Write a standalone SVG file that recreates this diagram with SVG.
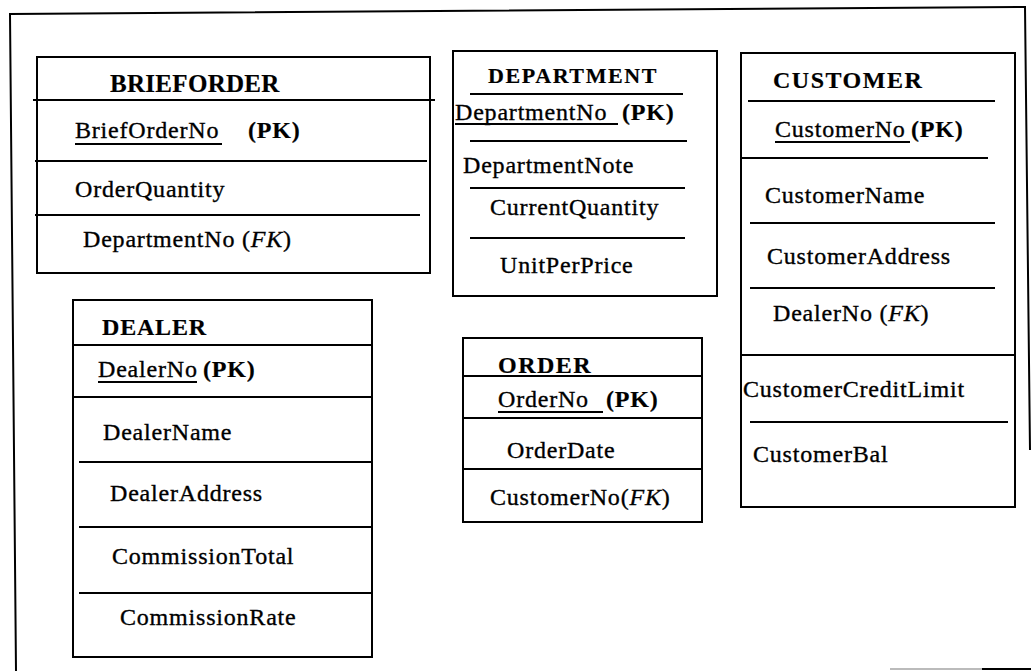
<svg xmlns="http://www.w3.org/2000/svg" width="1031" height="671" viewBox="0 0 1031 671">
<style>
  text { font-family: "Liberation Serif", "Times New Roman", serif; font-size: 24px; fill: #000; letter-spacing: 0.8px; stroke: #000; stroke-width: 0.35px; }
  .h { font-weight: bold; letter-spacing: 1.5px; stroke-width: 0.2px; }
  .b { font-weight: bold; stroke-width: 0.2px; }
  .i { font-style: italic; }
  .box { fill: none; stroke: #000; stroke-width: 2; }
  .ln { stroke: #000; stroke-width: 2; fill: none; }
  .frame { stroke: #000; stroke-width: 2; fill: none; }
</style>
<rect width="1031" height="671" fill="#fff"/>
<g id="frame">
  <polyline class="frame" points="16,671 10,14 1025,7 1030,450"/>
  <line x1="890" y1="669" x2="982" y2="669" stroke="#bbb" stroke-width="2"/>
  <line x1="982" y1="669" x2="1031" y2="669" stroke="#000" stroke-width="2"/>
</g>
<g id="connectors"></g>
<g id="brieforder">
  <rect class="box" x="37" y="57" width="393" height="216"/>
  <line class="ln" x1="33" y1="100" x2="435" y2="100"/>
  <line class="ln" x1="35" y1="161" x2="427" y2="161"/>
  <line class="ln" x1="35" y1="215" x2="420" y2="215"/>
  <text class="h" x="110" y="92" style="font-size:25px;letter-spacing:0.3px">BRIEFORDER</text>
  <text x="75" y="138">BriefOrderNo</text>
  <line class="ln" x1="75" y1="144" x2="222" y2="144"/>
  <text class="b" x="248" y="138">(PK)</text>
  <text x="75" y="197">OrderQuantity</text>
  <text x="83" y="247">DepartmentNo (<tspan class="i">FK</tspan>)</text>
</g>
<g id="department">
  <rect class="box" x="453" y="51" width="264" height="245"/>
  <line class="ln" x1="470" y1="94" x2="683" y2="94"/>
  <line class="ln" x1="470" y1="141" x2="687" y2="141"/>
  <line class="ln" x1="470" y1="188" x2="685" y2="188"/>
  <line class="ln" x1="470" y1="238" x2="685" y2="238"/>
  <text class="h" x="488" y="83" style="font-size:22px;letter-spacing:1.6px">DEPARTMENT</text>
  <text x="455" y="120">DepartmentNo</text>
  <line class="ln" x1="455" y1="124" x2="618" y2="124"/>
  <text class="b" x="622" y="120">(PK)</text>
  <text x="463" y="173">DepartmentNote</text>
  <text x="490" y="215">CurrentQuantity</text>
  <text x="500" y="273">UnitPerPrice</text>
</g>
<g id="customer">
  <rect class="box" x="741" y="53" width="274" height="454"/>
  <line class="ln" x1="748" y1="101" x2="995" y2="101"/>
  <line class="ln" x1="742" y1="158" x2="988" y2="158"/>
  <line class="ln" x1="750" y1="223" x2="995" y2="223"/>
  <line class="ln" x1="750" y1="288" x2="995" y2="288"/>
  <line class="ln" x1="741" y1="355" x2="1015" y2="355"/>
  <line class="ln" x1="750" y1="422" x2="1008" y2="422"/>
  <text class="h" x="773" y="88">CUSTOMER</text>
  <text x="775" y="137">CustomerNo</text>
  <line class="ln" x1="775" y1="142" x2="910" y2="142"/>
  <text class="b" x="911" y="137">(PK)</text>
  <text x="765" y="203">CustomerName</text>
  <text x="767" y="264">CustomerAddress</text>
  <text x="773" y="321">DealerNo (<tspan class="i">FK</tspan>)</text>
  <text x="743" y="397">CustomerCreditLimit</text>
  <text x="753" y="462">CustomerBal</text>
</g>
<g id="dealer">
  <rect class="box" x="73" y="300" width="299" height="357"/>
  <line class="ln" x1="73" y1="345" x2="372" y2="345"/>
  <line class="ln" x1="73" y1="397" x2="372" y2="397"/>
  <line class="ln" x1="79" y1="462" x2="372" y2="462"/>
  <line class="ln" x1="79" y1="527" x2="372" y2="527"/>
  <line class="ln" x1="79" y1="593" x2="372" y2="593"/>
  <text class="h" x="102" y="335" style="letter-spacing:0.8px">DEALER</text>
  <text x="98" y="377">DealerNo</text>
  <line class="ln" x1="98" y1="382" x2="197" y2="382"/>
  <text class="b" x="203" y="377">(PK)</text>
  <text x="103" y="440">DealerName</text>
  <text x="110" y="501">DealerAddress</text>
  <text x="112" y="564">CommissionTotal</text>
  <text x="120" y="625">CommissionRate</text>
</g>
<g id="order">
  <rect class="box" x="463" y="338" width="239" height="184"/>
  <line class="ln" x1="463" y1="376" x2="702" y2="376"/>
  <line class="ln" x1="463" y1="418" x2="702" y2="418"/>
  <line class="ln" x1="463" y1="469" x2="702" y2="469"/>
  <text class="h" x="498" y="373">ORDER</text>
  <text x="498" y="407">OrderNo</text>
  <line class="ln" x1="498" y1="412" x2="603" y2="412"/>
  <text class="b" x="606" y="407">(PK)</text>
  <text x="507" y="458">OrderDate</text>
  <text x="490" y="505">CustomerNo(<tspan class="i">FK</tspan>)</text>
</g>
</svg>
